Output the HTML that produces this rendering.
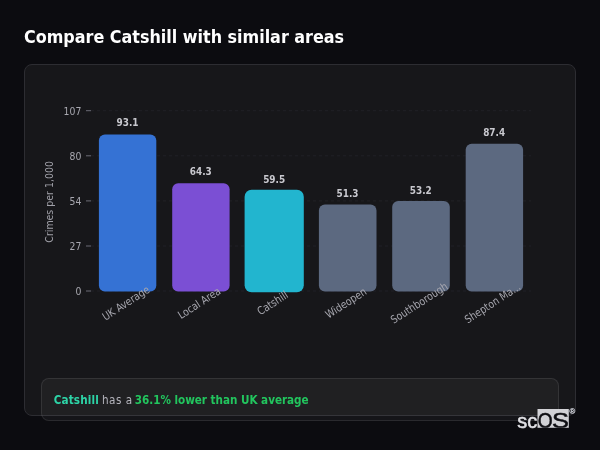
<!DOCTYPE html>
<html lang="en">
<head>
<meta charset="utf-8">
<title>Compare Catshill with similar areas</title>
<style>
html,body{margin:0;padding:0;}
body{width:600px;height:450px;background:#0c0c10;overflow:hidden;position:relative;font-family:"DejaVu Sans Condensed","DejaVu Sans","Liberation Sans",sans-serif;font-stretch:condensed;}
h1{position:absolute;left:24px;top:24px;margin:0;font-size:17.75px;line-height:26px;font-weight:bold;color:#fff;white-space:nowrap;}
.card{position:absolute;left:24px;top:64px;width:550px;height:350px;border:1px solid #2d2d32;border-radius:8px;background:#17171a;box-sizing:content-box;}
.info{position:absolute;left:41px;top:378px;width:516px;height:41px;border:1px solid rgba(255,255,255,0.09);border-radius:8px;background:rgba(255,255,255,0.04);font-size:11.6px;line-height:42px;color:#b4b4bc;white-space:nowrap;}
.info span{position:absolute;top:0;}
.info span.t{left:11.7px;color:#2dd4a7;font-weight:bold;letter-spacing:0.16px;}
.info span.m{left:59.9px;letter-spacing:0.5px;}
.info span.g{left:92.8px;color:#22c55e;font-weight:bold;letter-spacing:-0.02px;}
svg{position:absolute;left:0;top:0;}
</style>
</head>
<body>
<h1>Compare Catshill with similar areas</h1>
<div class="card"></div>
<svg width="600" height="450" viewBox="0 0 600 450" font-family="'DejaVu Sans Condensed','DejaVu Sans','Liberation Sans',sans-serif" font-stretch="condensed">
  <g stroke="#212127" stroke-width="1" stroke-dasharray="3 3">
    <line x1="91" y1="110.7" x2="531" y2="110.7"/>
    <line x1="91" y1="155.8" x2="531" y2="155.8"/>
    <line x1="91" y1="200.9" x2="531" y2="200.9"/>
    <line x1="91" y1="246.0" x2="531" y2="246.0"/>
    <line x1="91" y1="291.0" x2="531" y2="291.0"/>
  </g>
  <g stroke="#6b6b75" stroke-width="1">
    <line x1="86" y1="110.7" x2="91" y2="110.7"/>
    <line x1="86" y1="155.8" x2="91" y2="155.8"/>
    <line x1="86" y1="200.9" x2="91" y2="200.9"/>
    <line x1="86" y1="246.0" x2="91" y2="246.0"/>
    <line x1="86" y1="291.0" x2="91" y2="291.0"/>
  </g>
  <g fill="#a8a8b0" font-size="11" text-anchor="end">
    <text transform="translate(81.3,114.8) scale(0.94,1)">107</text>
    <text transform="translate(81.3,159.9) scale(0.94,1)">80</text>
    <text transform="translate(81.3,205.0) scale(0.94,1)">54</text>
    <text transform="translate(81.3,250.1) scale(0.94,1)">27</text>
    <text transform="translate(81.3,295.1) scale(0.94,1)">0</text>
  </g>
  <text transform="translate(52.8,201.9) rotate(-90) scale(0.953,1)" fill="#a0a0a8" font-size="11" text-anchor="middle">Crimes per 1,000</text>
  <rect x="98.9" y="134.5" width="57.4" height="156.9" rx="6" fill="#3572d4"/>
  <rect x="172.2" y="183.3" width="57.4" height="108.1" rx="6" fill="#7b4fd4"/>
  <rect x="244.6" y="189.7" width="59.2" height="102.5" rx="7" fill="#22b5cf"/>
  <rect x="318.9" y="204.5" width="57.6" height="86.9" rx="6" fill="#5c6980"/>
  <rect x="392.2" y="201" width="57.6" height="90.4" rx="6" fill="#5c6980"/>
  <rect x="465.7" y="143.7" width="57.4" height="147.7" rx="6" fill="#5c6980"/>
  <g fill="#c9c9cf" font-size="11" font-weight="bold" text-anchor="middle">
    <text transform="translate(127.5,126) scale(0.9,1)">93.1</text>
    <text transform="translate(200.8,175) scale(0.9,1)">64.3</text>
    <text transform="translate(274.1,182.5) scale(0.9,1)">59.5</text>
    <text transform="translate(347.5,196.5) scale(0.9,1)">51.3</text>
    <text transform="translate(420.8,193.6) scale(0.9,1)">53.2</text>
    <text transform="translate(494.1,135.5) scale(0.9,1)">87.4</text>
  </g>
  <g fill="#a6a6ae" font-size="11" text-anchor="middle">
    <text transform="translate(128,306.2) rotate(-33) scale(0.94,1)">UK Average</text>
    <text transform="translate(201.3,306.2) rotate(-33) scale(0.94,1)">Local Area</text>
    <text transform="translate(274.6,306.2) rotate(-33) scale(0.94,1)">Catshill</text>
    <text transform="translate(348,306.2) rotate(-33) scale(0.94,1)">Wideopen</text>
    <text transform="translate(421.3,306.2) rotate(-33) scale(0.94,1)">Southborough</text>
    <text transform="translate(494.6,306.2) rotate(-33) scale(0.94,1)">Shepton Ma...</text>
  </g>
</svg>
<div class="info"><span class="t">Catshill</span> <span class="m">has a</span> <span class="g">36.1% lower than UK average</span></div>
<svg width="600" height="450" viewBox="0 0 600 450" font-family="'Liberation Sans',sans-serif" font-stretch="normal">
  <defs><clipPath id="lc"><rect x="537.5" y="409" width="31.3" height="18.8"/></clipPath></defs>
  <rect x="537.5" y="409" width="31.3" height="18.8" fill="#d2d2d6"/>
  <text x="517.3" y="427.7" font-size="19.8" fill="#e2e2e6" stroke="#e2e2e6" stroke-width="0.5" textLength="20" lengthAdjust="spacingAndGlyphs">sc</text>
  <g clip-path="url(#lc)" font-size="21.3" fill="#0e0e12" stroke="#0e0e12" stroke-width="0.5">
    <text transform="translate(537.7,427.7) scale(0.9,1)">O</text>
    <text transform="translate(552,427.7) scale(1.19,1)">S</text>
  </g>
  <text x="569.4" y="413.6" font-size="7.8" fill="#d0d2da" stroke="#d0d2da" stroke-width="0.25">®</text>
</svg>
</body>
</html>
